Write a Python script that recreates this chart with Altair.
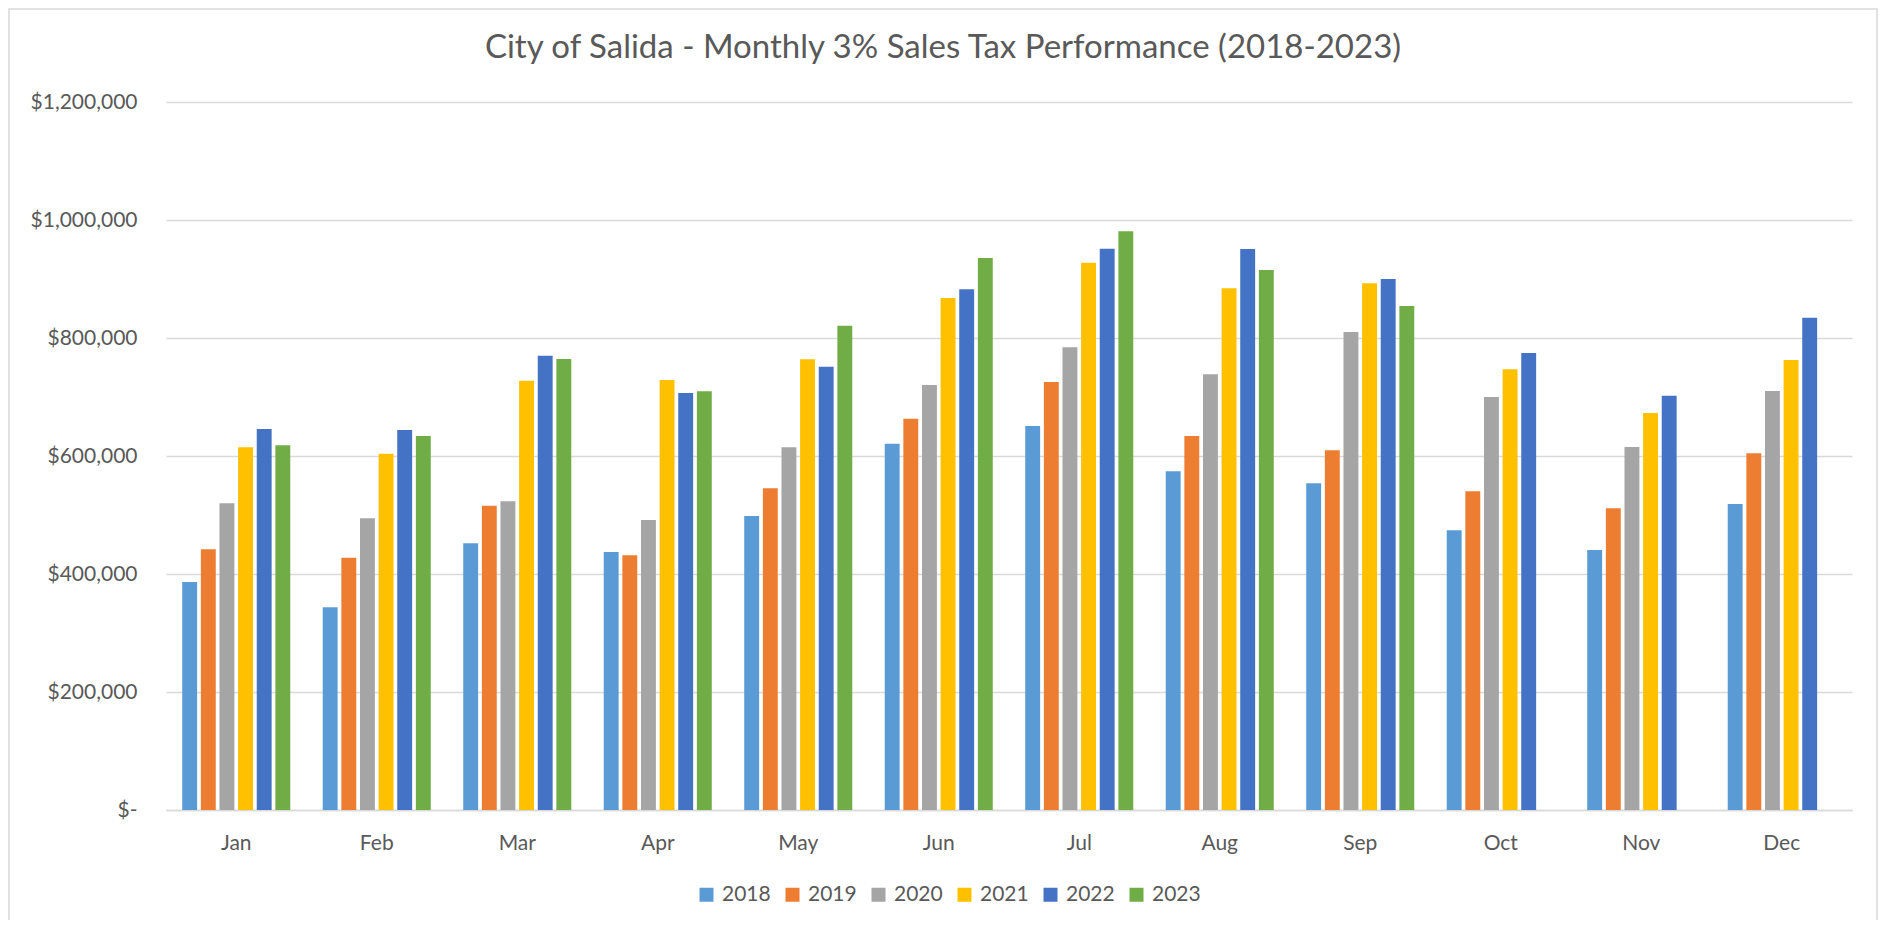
import altair as alt
import pandas as pd

months = ["Jan", "Feb", "Mar", "Apr", "May", "Jun", "Jul", "Aug", "Sep", "Oct", "Nov", "Dec"]
years = ["2018", "2019", "2020", "2021", "2022", "2023"]

v2018 = [386400, 343500, 452000, 437300, 498300, 620900, 650800, 574000, 553700, 474000, 440700, 518600]
v2019 = [441800, 427700, 515800, 431600, 545200, 663300, 725400, 633900, 609600, 540100, 511300, 604500]
v2020 = [519800, 494300, 523100, 491500, 614700, 720300, 784200, 738400, 810200, 700000, 615200, 710200]
v2021 = [614700, 603900, 727700, 728800, 763800, 867800, 927700, 884200, 892700, 746900, 672900, 762700]
v2022 = [645700, 644100, 770000, 706800, 751400, 882500, 951400, 950800, 900000, 774600, 702200, 834500]
v2023 = [618100, 633900, 764400, 709600, 820900, 935600, 980800, 915300, 854200, None, None, None]

colors = ["#5B9BD5", "#ED7D31", "#A5A5A5", "#FFC000", "#4472C4", "#70AD47"]
y_ticks = [0, 200000, 400000, 600000, 800000, 1000000, 1200000]

series = [v2018, v2019, v2020, v2021, v2022, v2023]
rows = []
for yr, vals in zip(years, series):
    for m, v in zip(months, vals):
        if v is not None:
            rows.append({"Month": m, "Year": yr, "Sales": v})
df = pd.DataFrame(rows)

FONT = "Lato"
TXT = "#595959"
GRID = "#D9D9D9"
NB = "\u00a0"

bars = alt.Chart(df).mark_bar().encode(
    x=alt.X(
        "Month:N",
        sort=months,
        scale=alt.Scale(paddingInner=0.231, paddingOuter=0.1155),
        axis=alt.Axis(
            title=None, labelAngle=0, labelFontSize=21, labelFont=FONT, labelColor=TXT,
            labelPadding=22, ticks=False, tickSize=0, domain=True, domainColor=GRID,
            domainWidth=1.5, grid=False,
        ),
    ),
    xOffset=alt.XOffset(
        "Year:N", sort=years,
        scale=alt.Scale(domain=years, paddingInner=0.2, paddingOuter=0),
    ),
    y=alt.Y(
        "Sales:Q",
        scale=alt.Scale(domain=[0, 1200000], nice=False),
        axis=alt.Axis(
            title=None, values=y_ticks,
            labelExpr="datum.value == 0 ? '$-" + NB + NB + "' : '$' + format(datum.value, ',')",
            grid=True, gridColor=GRID, gridWidth=1.5, domain=False, ticks=False, tickSize=0,
            labelPadding=29, labelFontSize=21, labelFont=FONT, labelColor=TXT,
        ),
    ),
    color=alt.Color(
        "Year:N", sort=years,
        scale=alt.Scale(domain=years, range=colors),
        legend=alt.Legend(
            title=None, orient="none", legendX=530, legendY=782, direction="horizontal",
            columns=6, symbolType="square", symbolSize=196, symbolStrokeWidth=0,
            labelFontSize=21, labelFont=FONT, labelColor=TXT, columnPadding=11,
            labelOffset=5, padding=0,
        ),
    ),
)

border = alt.Chart(alt.Data(values=[{}])).mark_rect(
    fill=None, stroke=GRID, strokeWidth=1.5
).encode(
    x=alt.value(-157), x2=alt.value(1711), y=alt.value(-93), y2=alt.value(900)
)

chart = alt.layer(border, bars).properties(
    width=1686,
    height=708,
    background="white",
    title=alt.TitleParams(
        text="City of Salida - Monthly 3% Sales Tax Performance (2018-2023)",
        fontSize=33, font=FONT, fontWeight="normal", color=TXT,
        anchor="middle", frame="bounds", offset=0, baseline="alphabetic", dy=83,
    ),
    autosize=alt.AutoSizeParams(type="none"),
    padding={"left": 158, "top": 94, "right": 26, "bottom": 110},
).configure_view(stroke="transparent", strokeWidth=0)

chart.save("out.html", embed_options={"renderer": "svg", "actions": False})
